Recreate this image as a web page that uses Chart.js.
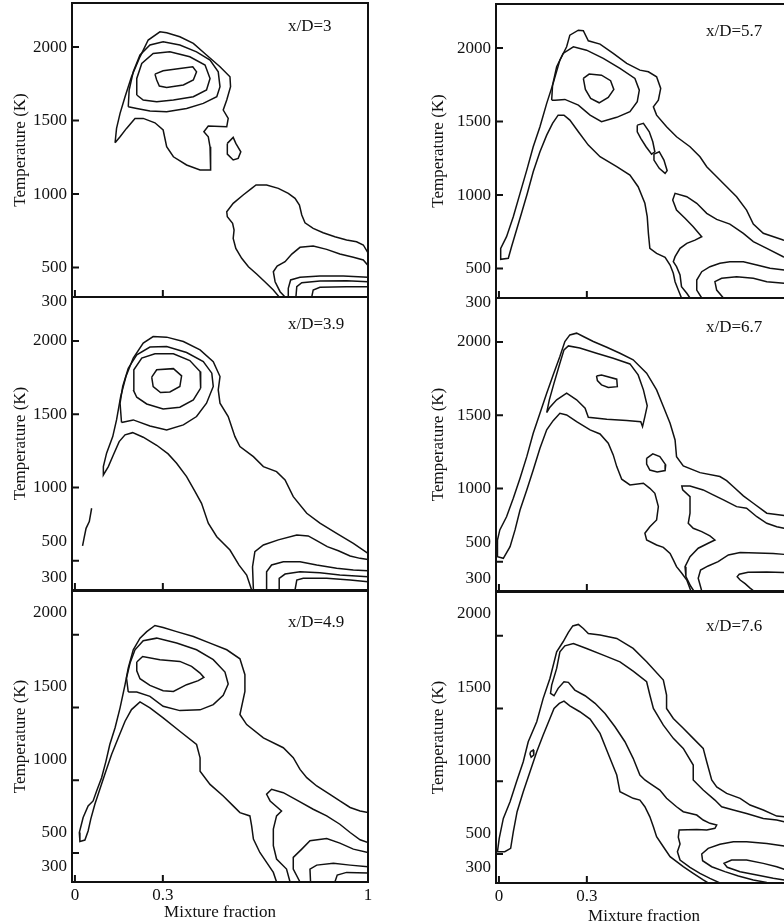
<!DOCTYPE html>
<html>
<head>
<meta charset="utf-8">
<script src="https://cdn.jsdelivr.net/npm/chart.js@4.4.0/dist/chart.umd.min.js"></script>
<style>
  html, body { margin: 0; padding: 0; background: #fff; overflow: hidden; }
  #page { position: relative; width: 784px; height: 924px; overflow: hidden; background: #fff; }
  #page canvas { position: absolute; }
</style>
</head>
<body>
<div id="page"></div>
<script>
// axis ticks
var xTicks = [0, 0.3, 1];
var xTickLabels = ['0', '0.3', '1'];
var yTicks = [300, 500, 1000, 1500, 2000];
var yTickLabels = ['300', '500', '1000', '1500', '2000'];

// contour lines, [mixture fraction, temperature K]
// x/D = 3
var d3Outer = [[0.137,1349],[0.142,1447],[0.154,1549],[0.171,1662],[0.193,1798],[0.222,1934],[0.250,2048],[0.290,2104],[0.313,2097],[0.358,2070],[0.404,2025],[0.449,1946],[0.495,1866],[0.529,1798],[0.531,1730],[0.518,1640],[0.506,1572],[0.523,1515],[0.518,1458],[0.455,1463],[0.440,1424],[0.455,1390],[0.461,1322],[0.463,1164],[0.427,1164],[0.381,1198],[0.336,1254],[0.313,1322],[0.301,1436],[0.273,1485],[0.233,1515],[0.205,1515],[0.176,1447],[0.154,1390]];
var d3Ring2 = [[0.182,1594],[0.185,1708],[0.199,1832],[0.222,1946],[0.256,2014],[0.301,2036],[0.358,2014],[0.415,1968],[0.461,1912],[0.489,1832],[0.495,1730],[0.484,1662],[0.438,1617],[0.381,1583],[0.313,1560],[0.256,1565],[0.211,1583]];
var d3Ring3 = [[0.211,1674],[0.211,1787],[0.228,1889],[0.267,1957],[0.324,1968],[0.392,1934],[0.444,1878],[0.461,1787],[0.449,1708],[0.404,1662],[0.336,1640],[0.279,1628],[0.233,1640]];
var d3Core = [[0.273,1816],[0.301,1839],[0.358,1855],[0.402,1866],[0.415,1832],[0.404,1776],[0.370,1742],[0.313,1726],[0.288,1735],[0.279,1776]];
var d3Island = [[0.520,1345],[0.540,1386],[0.549,1345],[0.566,1288],[0.557,1243],[0.540,1232],[0.520,1272]];
var d3LowA = [[0.697,300],[0.677,348],[0.648,404],[0.620,456],[0.592,506],[0.569,563],[0.549,631],[0.540,699],[0.543,756],[0.538,801],[0.520,846],[0.518,880],[0.540,937],[0.574,994],[0.603,1039],[0.618,1062],[0.654,1062],[0.694,1039],[0.728,1005],[0.751,971],[0.766,926],[0.774,858],[0.785,805],[0.813,767],[0.847,737],[0.887,710],[0.927,688],[0.961,676],[0.984,654],[1.0,600]];
var d3LowB = [[0.717,300],[0.700,336],[0.683,404],[0.677,472],[0.690,511],[0.717,540],[0.740,592],[0.768,638],[0.813,647],[0.859,624],[0.904,592],[0.950,570],[0.984,552],[1.0,515]];
var d3LowC = [[0.728,300],[0.728,359],[0.736,416],[0.768,434],[0.836,443],[0.916,443],[1.0,434]];
var d3LowD = [[0.754,300],[0.757,370],[0.774,397],[0.836,409],[0.927,411],[1.0,404]];
var d3LowE = [[0.808,300],[0.813,348],[0.836,366],[0.927,370],[1.0,370]];

// x/D = 3.9
var d39Outer = [[1.0,550],[0.950,619],[0.893,687],[0.836,756],[0.791,824],[0.745,937],[0.717,1051],[0.688,1108],[0.643,1142],[0.609,1210],[0.563,1279],[0.546,1347],[0.523,1484],[0.495,1575],[0.489,1666],[0.495,1757],[0.472,1859],[0.427,1939],[0.370,1996],[0.313,2026],[0.267,2030],[0.233,1985],[0.199,1883],[0.174,1757],[0.156,1620],[0.142,1461],[0.129,1347],[0.108,1234],[0.097,1142],[0.097,1085],[0.114,1142],[0.131,1222],[0.151,1313],[0.171,1359],[0.197,1374],[0.233,1343],[0.279,1288],[0.318,1229],[0.347,1165],[0.381,1074],[0.410,971],[0.432,892],[0.455,756],[0.484,664],[0.529,573],[0.560,470],[0.586,402],[0.603,300]];
var d39Ring2 = [[0.159,1443],[0.154,1575],[0.163,1689],[0.182,1814],[0.211,1905],[0.256,1958],[0.313,1962],[0.381,1921],[0.438,1859],[0.467,1780],[0.472,1689],[0.449,1575],[0.415,1484],[0.370,1427],[0.313,1393],[0.256,1420],[0.199,1461]];
var d39Ring3 = [[0.199,1666],[0.201,1803],[0.228,1883],[0.273,1912],[0.336,1912],[0.392,1866],[0.427,1791],[0.429,1678],[0.404,1598],[0.358,1548],[0.301,1536],[0.245,1570],[0.211,1616]];
var d39Core = [[0.262,1753],[0.279,1803],[0.336,1811],[0.364,1762],[0.358,1689],[0.324,1652],[0.292,1648],[0.267,1689]];
var d39Tail = [[0.057,858],[0.049,767],[0.038,721],[0.031,653],[0.026,601]];
var d39LowA = [[0.609,300],[0.606,459],[0.614,562],[0.643,607],[0.694,642],[0.757,676],[0.796,669],[0.825,637],[0.861,596],[0.899,568],[0.939,532],[0.973,516],[1.0,508]];
var d39LowB = [[0.654,300],[0.654,425],[0.671,471],[0.711,493],[0.768,493],[0.825,471],[0.893,448],[0.950,437],[1.0,431]];
var d39LowC = [[0.697,300],[0.697,380],[0.717,409],[0.768,425],[0.836,418],[0.904,402],[1.0,390]];
var d39LowD = [[0.751,300],[0.757,368],[0.779,380],[0.859,380],[0.939,368],[1.0,356]];

// x/D = 4.9
var d49Outer = [[1.0,777],[0.973,788],[0.939,812],[0.904,857],[0.870,903],[0.825,960],[0.791,1017],[0.768,1074],[0.745,1154],[0.711,1223],[0.643,1291],[0.586,1382],[0.563,1451],[0.580,1610],[0.580,1725],[0.563,1834],[0.518,1896],[0.461,1942],[0.404,1987],[0.347,2021],[0.301,2049],[0.273,2063],[0.245,2021],[0.222,1976],[0.199,1896],[0.182,1771],[0.171,1656],[0.154,1497],[0.137,1360],[0.119,1245],[0.106,1131],[0.091,1017],[0.074,925],[0.062,857],[0.045,823],[0.028,743],[0.015,640],[0.017,579],[0.034,588],[0.045,651],[0.054,732],[0.068,834],[0.083,925],[0.102,1040],[0.125,1177],[0.148,1291],[0.171,1405],[0.193,1485],[0.222,1538],[0.256,1497],[0.301,1428],[0.358,1336],[0.415,1245],[0.427,1154],[0.427,1062],[0.461,971],[0.506,891],[0.540,823],[0.563,777],[0.597,754],[0.603,686],[0.609,595],[0.631,503],[0.654,435],[0.677,366],[0.688,300]];
var d49Ring2 = [[0.182,1606],[0.176,1702],[0.188,1805],[0.205,1896],[0.233,1958],[0.279,1976],[0.347,1942],[0.415,1896],[0.472,1828],[0.512,1743],[0.523,1661],[0.506,1583],[0.472,1519],[0.427,1483],[0.358,1478],[0.301,1508],[0.256,1576],[0.211,1606]];
var d49Core = [[0.211,1812],[0.231,1850],[0.290,1828],[0.358,1816],[0.398,1782],[0.427,1736],[0.440,1706],[0.421,1684],[0.381,1656],[0.336,1610],[0.301,1615],[0.256,1651],[0.222,1697],[0.211,1752]];
var d49LowA = [[0.734,300],[0.722,389],[0.688,458],[0.677,549],[0.677,663],[0.688,754],[0.705,788],[0.666,857],[0.654,903],[0.671,937],[0.711,914],[0.762,857],[0.813,800],[0.859,754],[0.904,697],[0.939,640],[0.973,590],[1.0,572]];
var d49LowB = [[0.768,300],[0.745,389],[0.745,469],[0.774,526],[0.802,583],[0.859,599],[0.904,567],[0.950,526],[1.0,503]];
var d49LowC = [[0.804,300],[0.802,389],[0.825,416],[0.882,428],[0.939,416],[1.0,405]];
var d49LowD = [[0.887,300],[0.895,348],[0.927,366],[1.0,362]];

// x/D = 5.7
var d57Outer = [[1.0,680],[0.970,694],[0.902,740],[0.868,803],[0.845,898],[0.811,989],[0.777,1057],[0.743,1125],[0.709,1193],[0.686,1261],[0.652,1329],[0.606,1397],[0.572,1465],[0.538,1544],[0.527,1601],[0.544,1646],[0.552,1726],[0.538,1805],[0.510,1839],[0.481,1850],[0.436,1896],[0.390,1964],[0.345,2027],[0.305,2050],[0.288,2118],[0.271,2122],[0.242,2088],[0.231,2009],[0.208,1918],[0.185,1760],[0.163,1624],[0.140,1465],[0.117,1329],[0.095,1170],[0.072,1012],[0.049,853],[0.026,717],[0.006,638],[0.006,563],[0.032,570],[0.043,649],[0.060,762],[0.077,876],[0.097,1012],[0.117,1159],[0.140,1295],[0.163,1408],[0.183,1488],[0.202,1544],[0.222,1544],[0.242,1510],[0.271,1431],[0.305,1340],[0.345,1261],[0.402,1193],[0.447,1136],[0.475,1057],[0.498,944],[0.506,853],[0.510,740],[0.515,638],[0.538,604],[0.567,577],[0.584,524],[0.595,468],[0.601,411],[0.612,354],[0.623,300]];
var d57Ring2 = [[0.180,1646],[0.183,1748],[0.197,1873],[0.219,1964],[0.254,2009],[0.299,1986],[0.356,1930],[0.413,1862],[0.464,1794],[0.479,1714],[0.472,1635],[0.447,1567],[0.402,1529],[0.350,1499],[0.311,1544],[0.271,1612],[0.225,1651],[0.191,1646]];
var d57Core = [[0.288,1794],[0.308,1823],[0.350,1816],[0.381,1778],[0.392,1719],[0.373,1665],[0.342,1628],[0.313,1658],[0.295,1719]];
var d57IslandA = [[0.472,1476],[0.493,1488],[0.513,1431],[0.525,1363],[0.532,1295],[0.521,1279],[0.502,1329],[0.484,1386],[0.472,1431]];
var d57IslandB = [[0.529,1279],[0.547,1295],[0.563,1238],[0.574,1166],[0.567,1148],[0.547,1182],[0.529,1238]];
var d57LowA = [[1.0,565],[0.970,581],[0.914,638],[0.868,683],[0.834,740],[0.788,803],[0.743,835],[0.709,876],[0.675,944],[0.641,989],[0.601,1012],[0.593,966],[0.606,898],[0.635,842],[0.663,785],[0.692,717],[0.669,694],[0.641,672],[0.618,638],[0.601,581],[0.595,547],[0.606,513],[0.618,456],[0.623,377],[0.641,332],[0.652,300]];
var d57LowB = [[0.692,300],[0.675,354],[0.675,422],[0.692,479],[0.720,513],[0.754,536],[0.788,547],[0.834,547],[0.880,524],[0.925,502],[0.973,490],[1.0,484]];
var d57LowC = [[0.766,300],[0.743,354],[0.737,411],[0.760,434],[0.811,445],[0.868,434],[0.914,411],[0.973,400],[1.0,395]];

// x/D = 6.7
var d67Outer = [[1.0,805],[0.973,815],[0.914,831],[0.868,899],[0.834,949],[0.800,1012],[0.777,1053],[0.754,1081],[0.686,1108],[0.629,1154],[0.606,1217],[0.601,1331],[0.584,1445],[0.561,1559],[0.538,1673],[0.504,1787],[0.458,1878],[0.413,1923],[0.368,1964],[0.322,2003],[0.288,2037],[0.265,2060],[0.242,2048],[0.225,2003],[0.208,1900],[0.185,1775],[0.163,1650],[0.140,1513],[0.117,1377],[0.095,1217],[0.072,1070],[0.049,933],[0.026,807],[0.003,717],[-0.005,648],[-0.005,534],[0.015,523],[0.038,603],[0.055,717],[0.072,853],[0.095,990],[0.117,1126],[0.140,1275],[0.163,1400],[0.185,1463],[0.208,1513],[0.231,1502],[0.265,1456],[0.311,1400],[0.345,1372],[0.373,1309],[0.390,1229],[0.402,1149],[0.419,1063],[0.447,1024],[0.493,1036],[0.515,1001],[0.532,967],[0.544,876],[0.538,785],[0.515,739],[0.498,694],[0.504,648],[0.538,614],[0.561,598],[0.584,557],[0.595,512],[0.606,466],[0.624,421],[0.641,375],[0.655,300]];
var d67Ring2 = [[0.163,1518],[0.172,1605],[0.188,1719],[0.208,1855],[0.222,1946],[0.237,1973],[0.276,1958],[0.333,1923],[0.390,1889],[0.447,1850],[0.475,1775],[0.493,1673],[0.506,1564],[0.498,1490],[0.490,1422],[0.484,1456],[0.436,1463],[0.368,1473],[0.305,1486],[0.294,1548],[0.265,1605],[0.231,1650],[0.197,1605],[0.174,1555]];
var d67IslandA = [[0.333,1768],[0.350,1775],[0.402,1746],[0.404,1695],[0.373,1689],[0.350,1707],[0.336,1736]];
var d67IslandB = [[0.504,1206],[0.525,1236],[0.549,1217],[0.569,1161],[0.567,1122],[0.540,1113],[0.515,1126],[0.504,1167]];
var d67LowA = [[1.0,715],[0.973,728],[0.948,739],[0.914,762],[0.880,807],[0.845,865],[0.811,876],[0.766,922],[0.731,956],[0.697,990],[0.652,1017],[0.624,1017],[0.627,990],[0.652,944],[0.652,831],[0.646,762],[0.663,728],[0.692,705],[0.720,676],[0.737,648],[0.714,626],[0.680,592],[0.652,534],[0.635,466],[0.638,398],[0.654,334],[0.665,300]];
var d67LowB = [[0.692,300],[0.680,387],[0.688,443],[0.714,471],[0.748,500],[0.783,546],[0.823,562],[0.880,560],[0.936,556],[0.973,550],[1.0,545]];
var d67LowC = [[1.0,424],[0.914,430],[0.850,428],[0.820,415],[0.813,398],[0.823,375],[0.840,350],[0.857,320],[0.870,300]];

// x/D = 7.6
var d76Outer = [[1.0,745],[0.973,755],[0.948,760],[0.902,802],[0.857,836],[0.823,882],[0.777,916],[0.743,961],[0.726,1008],[0.709,1133],[0.697,1225],[0.663,1294],[0.629,1363],[0.595,1431],[0.572,1500],[0.572,1592],[0.561,1695],[0.504,1820],[0.458,1912],[0.402,1981],[0.345,2004],[0.305,2015],[0.288,2049],[0.271,2077],[0.252,2067],[0.237,2022],[0.219,1958],[0.197,1889],[0.174,1706],[0.151,1569],[0.129,1408],[0.100,1271],[0.083,1133],[0.060,996],[0.038,859],[0.015,744],[0.001,607],[-0.005,515],[0.020,515],[0.040,538],[0.049,652],[0.062,790],[0.083,927],[0.106,1065],[0.129,1202],[0.151,1317],[0.174,1431],[0.188,1500],[0.206,1534],[0.222,1550],[0.242,1518],[0.276,1477],[0.311,1427],[0.345,1328],[0.370,1202],[0.402,1042],[0.413,927],[0.458,882],[0.481,870],[0.498,824],[0.515,755],[0.527,687],[0.538,618],[0.561,549],[0.584,481],[0.629,412],[0.663,366],[0.697,321],[0.714,300]];
var d76Ring2 = [[1.0,715],[0.973,721],[0.948,733],[0.902,744],[0.845,778],[0.800,802],[0.760,824],[0.737,870],[0.697,939],[0.663,1008],[0.663,1111],[0.629,1225],[0.595,1294],[0.561,1385],[0.527,1500],[0.515,1592],[0.504,1683],[0.458,1756],[0.413,1820],[0.356,1866],[0.299,1912],[0.254,1946],[0.225,1930],[0.208,1889],[0.197,1775],[0.180,1660],[0.176,1603],[0.188,1587],[0.202,1638],[0.222,1683],[0.237,1679],[0.259,1626],[0.294,1587],[0.328,1535],[0.362,1465],[0.396,1374],[0.430,1271],[0.458,1157],[0.481,1042],[0.498,1008],[0.515,985],[0.549,939],[0.572,882],[0.606,824],[0.629,790],[0.675,767],[0.697,733],[0.720,710],[0.743,698],[0.737,676],[0.709,664],[0.675,668],[0.615,664],[0.612,614],[0.618,568],[0.609,515],[0.618,458],[0.652,408],[0.686,366],[0.720,332],[0.754,300]];
var d76Blip = [[0.108,1203],[0.117,1214],[0.119,1180],[0.110,1165],[0.106,1187]];
var d76LowA = [[1.0,545],[0.973,554],[0.914,572],[0.845,584],[0.800,584],[0.754,566],[0.714,538],[0.692,499],[0.695,453],[0.726,412],[0.771,378],[0.817,348],[0.868,321],[0.914,304],[0.950,300]];
var d76LowB = [[1.0,392],[0.973,394],[0.948,412],[0.902,435],[0.845,458],[0.794,458],[0.768,435],[0.779,408],[0.823,378],[0.880,355],[0.936,332],[0.973,321],[1.0,315]];

var FONT = '"Liberation Serif", "Times New Roman", serif';
var INK = '#111';

var columns = [
  { canvasLeft: 0,   frameLeft: 72,  frameRight: 368, titlePad: 10, xAxisH: 41, xTicks: [0, 0.3, 1] },
  { canvasLeft: 400, frameLeft: 496, frameRight: 792, titlePad: 28, xAxisH: 44, xTicks: [0, 0.3] }
];

var panels = [
  { tag: 'x/D=3', col: 0, top: 3, bottom: 297, lastRow: false, labelShift: [5, 0, 0, 0, 0], tagDx: 216, tagDy: 24,
    lines: [[d3Outer, true], [d3Ring2, true], [d3Ring3, true], [d3Core, true], [d3Island, true],
            [d3LowA, false], [d3LowB, false], [d3LowC, false], [d3LowD, false], [d3LowE, false]] },
  { tag: 'x/D=3.9', col: 0, top: 297, bottom: 590, lastRow: false, labelShift: [-12, -19, 0, 0, 0], tagDx: 216, tagDy: 28,
    lines: [[d39Outer, false], [d39Ring2, true], [d39Ring3, true], [d39Core, true], [d39Tail, false],
            [d39LowA, false], [d39LowB, false], [d39LowC, false], [d39LowD, false]] },
  { tag: 'x/D=4.9', col: 0, top: 591, bottom: 882, lastRow: true, labelShift: [-15, -20, -21, -21, -22], tagDx: 216, tagDy: 32,
    lines: [[d49Outer, false], [d49Ring2, true], [d49Core, true],
            [d49LowA, false], [d49LowB, false], [d49LowC, false], [d49LowD, false]] },
  { tag: 'x/D=5.7', col: 1, top: 4, bottom: 298, lastRow: false, labelShift: [5, 0, 0, 0, 0], tagDx: 210, tagDy: 28,
    lines: [[d57Outer, false], [d57Ring2, true], [d57Core, true], [d57IslandA, true], [d57IslandB, true],
            [d57LowA, false], [d57LowB, false], [d57LowC, false]] },
  { tag: 'x/D=6.7', col: 1, top: 298, bottom: 591, lastRow: false, labelShift: [-12, -19, 0, 0, 0], tagDx: 210, tagDy: 30,
    lines: [[d67Outer, false], [d67Ring2, true], [d67IslandA, true], [d67IslandB, true],
            [d67LowA, false], [d67LowB, false], [d67LowC, false]] },
  { tag: 'x/D=7.6', col: 1, top: 592, bottom: 883, lastRow: true, labelShift: [-15, -20, -21, -21, -22], tagDx: 210, tagDy: 35,
    lines: [[d76Outer, false], [d76Ring2, false], [d76Blip, true], [d76LowA, false], [d76LowB, false]] }
];

function toPoints(arr, closed) {
  var pts = arr.map(function(p) { return { x: p[0], y: p[1] }; });
  if (closed) pts.push({ x: arr[0][0], y: arr[0][1] });
  return pts;
}

function framePlugin(p) {
  return {
    id: 'frame',
    afterDraw: function(chart) {
      var a = chart.chartArea, ctx = chart.ctx;
      var xs = chart.scales.x, ys = chart.scales.y;
      ctx.save();
      ctx.strokeStyle = INK;
      ctx.lineWidth = 2;
      ctx.strokeRect(a.left, a.top, a.right - a.left, a.bottom - a.top);
      // inward tick marks
      ctx.beginPath();
      ys.ticks.forEach(function(t) {
        var py = ys.getPixelForValue(t.value);
        ctx.moveTo(a.left, py);
        ctx.lineTo(a.left + 7, py);
      });
      xs.ticks.forEach(function(t) {
        var px = xs.getPixelForValue(t.value);
        ctx.moveTo(px, a.bottom);
        ctx.lineTo(px, a.bottom - 7);
      });
      ctx.stroke();
      // temperature labels, placed by hand in the original figure
      ctx.fillStyle = INK;
      ctx.font = '17px ' + FONT;
      ctx.textAlign = 'right';
      ctx.textBaseline = 'middle';
      ys.ticks.forEach(function(t) {
        var k = yTicks.indexOf(t.value);
        ctx.fillText(yTickLabels[k], a.left - 5, ys.getPixelForValue(t.value) + p.labelShift[k]);
      });
      ctx.textAlign = 'left';
      ctx.fillText(p.tag, a.left + p.tagDx, a.top + p.tagDy);
      ctx.restore();
    }
  };
}

function makePanel(p) {
  var col = columns[p.col];
  var pad = 10;
  var axisH = p.lastRow ? col.xAxisH : 0;
  var w = col.frameRight - col.canvasLeft + pad;
  var h = (p.bottom - p.top) + 2 * pad + axisH;

  var canvas = document.createElement('canvas');
  canvas.width = w;
  canvas.height = h;
  canvas.style.width = w + 'px';
  canvas.style.height = h + 'px';
  canvas.style.left = col.canvasLeft + 'px';
  canvas.style.top = (p.top - pad) + 'px';
  document.getElementById('page').appendChild(canvas);

  var datasets = p.lines.map(function(l) {
    return {
      data: toPoints(l[0], l[1]),
      showLine: true,
      borderColor: INK,
      borderWidth: 1.5,
      pointRadius: 0,
      tension: 0,
      fill: false
    };
  });

  return new Chart(canvas, {
    type: 'scatter',
    data: { datasets: datasets },
    options: {
      responsive: false,
      animation: false,
      devicePixelRatio: 1,
      events: [],
      layout: { padding: { top: pad, right: pad, bottom: pad, left: 0 } },
      plugins: { legend: { display: false }, tooltip: { enabled: false } },
      scales: {
        x: {
          type: 'linear',
          min: -0.01,
          max: 1,
          afterBuildTicks: function(scale) {
            scale.ticks = col.xTicks.map(function(v) { return { value: v }; });
          },
          afterFit: function(scale) { scale.height = axisH; },
          ticks: {
            display: p.lastRow,
            autoSkip: false,
            maxRotation: 0,
            padding: 3,
            color: INK,
            font: { family: FONT, size: 17 },
            callback: function(v) { return xTickLabels[xTicks.indexOf(v)]; }
          },
          grid: { display: false, drawTicks: false },
          border: { display: false },
          title: {
            display: p.lastRow,
            text: 'Mixture fraction',
            color: INK,
            font: { family: FONT, size: 17 },
            padding: 0
          }
        },
        y: {
          type: 'linear',
          min: 300,
          max: 2300,
          afterBuildTicks: function(scale) {
            scale.ticks = yTicks.map(function(v) { return { value: v }; });
          },
          afterFit: function(scale) { scale.width = col.frameLeft - col.canvasLeft; },
          ticks: { display: false },
          grid: { display: false, drawTicks: false },
          border: { display: false },
          title: {
            display: true,
            text: 'Temperature (K)',
            color: INK,
            font: { family: FONT, size: 17 },
            padding: { top: col.titlePad, bottom: 0 }
          }
        }
      }
    },
    plugins: [framePlugin(p)]
  });
}

panels.forEach(makePanel);
</script>
</body>
</html>
